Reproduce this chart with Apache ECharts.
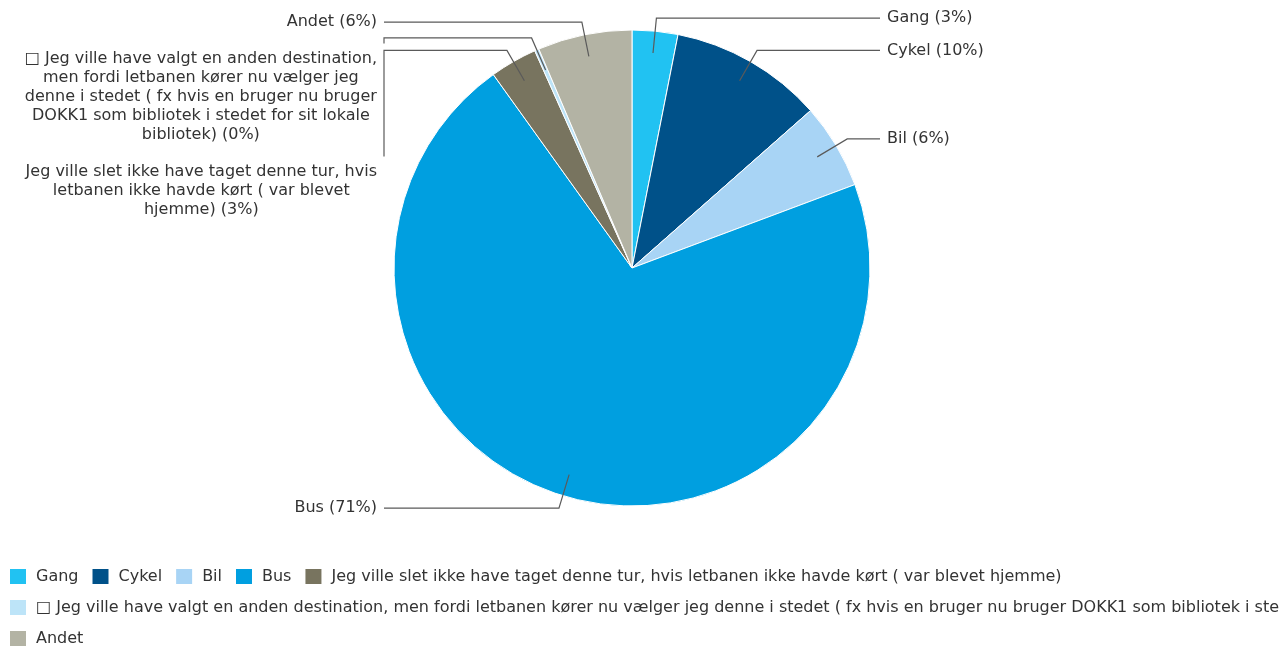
<!DOCTYPE html>
<html>
<head>
<meta charset="utf-8">
<script src="https://cdn.jsdelivr.net/npm/echarts@6/dist/echarts.min.js"></script>
<style>
html,body{margin:0;padding:0;background:#fff;}
#chart{width:1279px;height:648px;}
</style>
</head>
<body>
<div id="chart"></div>
<script>
// ---- data ----
const categories = [
  'Gang',
  'Cykel',
  'Bil',
  'Bus',
  'Jeg ville slet ikke have taget denne tur, hvis letbanen ikke havde kørt ( var blevet hjemme)',
  '□ Jeg ville have valgt en anden destination, men fordi letbanen kører nu vælger jeg denne i stedet ( fx hvis en bruger nu bruger DOKK1 som bibliotek i stedet for sit lokale bibliotek)',
  'Andet'
];
const percentValues = [3.1, 10.4, 5.8, 70.8, 3.2, 0.3, 6.4];
const labelLines = [
  ['Gang'],
  ['Cykel'],
  ['Bil'],
  ['Bus'],
  ['Jeg ville slet ikke have taget denne tur, hvis', 'letbanen ikke havde kørt ( var blevet', 'hjemme)'],
  ['□ Jeg ville have valgt en anden destination,', 'men fordi letbanen kører nu vælger jeg', 'denne i stedet ( fx hvis en bruger nu bruger', 'DOKK1 som bibliotek i stedet for sit lokale', 'bibliotek)'],
  ['Andet']
];
const colors = ['#21c2f2', '#005189', '#a8d4f5', '#009fe0', '#78745f', '#bde4f8', '#b3b3a4'];

// ---- layout constants ----
const FONT = 'DejaVu Sans';
const LINE_H = 19;
const LINE_LEN = 13;     // radial part of label line beyond radius
const LINE_INSET = 22;   // label line starts inside slice
const LINE_REACH = 10;   // horizontal end of label lines beyond radius
const LABEL_GAP = 7;
const STACK_GAP = 18;
const PIE_CENTER = [632, 268];
const PIE_RADIUS = 238;

const chart = echarts.init(document.getElementById('chart'), null, {renderer: 'canvas'});

function layoutLabel(params) {
  const data = chart.getModel().getSeriesByIndex(params.seriesIndex).getData();
  const geo = [];
  for (let j = 0; j < data.count(); j++) {
    const lay = data.getItemLayout(j);
    const mid = (lay.startAngle + lay.endAngle) / 2;
    const dx = Math.cos(mid), dy = Math.sin(mid);
    const side = dx < 0 ? -1 : 1;
    geo.push({
      side: side,
      p0: [lay.cx + (lay.r - LINE_INSET) * dx, lay.cy + (lay.r - LINE_INSET) * dy],
      elbow: [lay.cx + (lay.r + LINE_LEN) * dx, lay.cy + (lay.r + LINE_LEN) * dy],
      endX: lay.cx + side * (lay.r + LINE_REACH),
      h: labelLines[j].length * LINE_H
    });
  }
  [-1, 1].forEach(function (side) {
    const list = geo.filter(function (g) { return g.side === side; })
      .sort(function (a, b) { return a.elbow[1] - b.elbow[1]; });
    let prevBottom = -Infinity;
    list.forEach(function (g) {
      let top = g.elbow[1] - g.h / 2;
      if (top < prevBottom) top = prevBottom + STACK_GAP;
      g.top = top;
      g.y = top + g.h / 2;
      prevBottom = top + g.h;
    });
  });
  const g = geo[params.dataIndex];
  const pts = [g.p0, g.elbow, [g.endX, g.elbow[1]]];
  if (Math.abs(g.y - g.elbow[1]) > 0.5) pts.push([g.endX, g.top - 6]);
  return {x: g.endX + g.side * LABEL_GAP, y: g.y, labelLinePoints: pts};
}

const pieData = categories.map(function (name, i) {
  return {name: name, value: percentValues[i]};
});

const option = {
  animation: false,
  backgroundColor: '#ffffff',
  color: colors,
  legend: {
    data: categories,
    left: 3,
    right: 0,
    top: 562,
    orient: 'horizontal',
    icon: 'rect',
    itemWidth: 18,
    itemHeight: 17,
    itemGap: 12,
    textStyle: {fontFamily: FONT, fontSize: 16, color: '#333', padding: [0, 0, 0, 4]}
  },
  series: [{
    // slices
    type: 'pie',
    z: 2,
    center: PIE_CENTER,
    radius: PIE_RADIUS,
    startAngle: 90,
    clockwise: true,
    avoidLabelOverlap: false,
    itemStyle: {borderColor: '#ffffff', borderWidth: 1},
    emphasis: {disabled: true},
    label: {show: false},
    labelLine: {show: false},
    data: pieData
  }, {
    // labels and connector lines drawn above the slices
    type: 'pie',
    z: 4,
    silent: true,
    center: PIE_CENTER,
    radius: PIE_RADIUS,
    startAngle: 90,
    clockwise: true,
    avoidLabelOverlap: false,
    itemStyle: {color: 'rgba(0,0,0,0)', borderWidth: 0},
    emphasis: {disabled: true},
    label: {
      show: true,
      position: 'outer',
      alignTo: 'none',
      fontFamily: FONT,
      fontSize: 16,
      color: '#333',
      formatter: function (p) {
        const lines = labelLines[p.dataIndex].slice();
        lines[lines.length - 1] += ' (' + Math.round(p.value) + '%)';
        return lines.map(function (l) { return '{t|' + l + '}'; }).join('\n');
      },
      rich: {
        t: {align: 'center', fontFamily: FONT, fontSize: 16, lineHeight: LINE_H, color: '#333'}
      }
    },
    labelLine: {
      show: true,
      length: LINE_LEN,
      length2: 20,
      lineStyle: {color: '#5a5a5a', width: 1.2}
    },
    labelLayout: layoutLabel,
    data: pieData
  }]
};
chart.setOption(option);
</script>
</body>
</html>
